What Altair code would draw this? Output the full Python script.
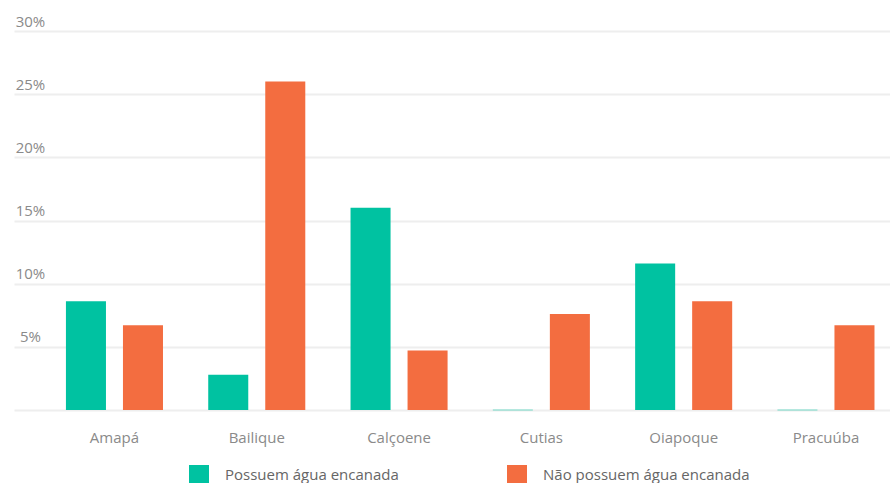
import altair as alt
import pandas as pd

# Percentual de domicílios por município, segundo o acesso à água encanada
municipios = ["Amapá", "Bailique", "Calçoene", "Cutias", "Oiapoque", "Pracuúba"]
possuem = [8.6, 2.8, 16.0, 0.0, 11.6, 0.0]
nao_possuem = [6.7, 26.0, 4.7, 7.6, 8.6, 6.7]
series = ["Possuem água encanada", "Não possuem água encanada"]
cores = ["#00C2A1", "#F36D40"]

rows = []
for m, a, b in zip(municipios, possuem, nao_possuem):
    rows.append({"municipio": m, "grupo": series[0], "valor": a})
    rows.append({"municipio": m, "grupo": series[1], "valor": b})
df = pd.DataFrame(rows)

FONT = "Open Sans"
GRAY = "#8a8a8a"

color_scale = alt.Scale(domain=series, range=cores)

chart = (
    alt.Chart(df)
    .mark_bar(strokeWidth=1.5)
    .encode(
        x=alt.X(
            "municipio:N",
            sort=municipios,
            title=None,
            scale=alt.Scale(paddingInner=0.318, paddingOuter=0.237, align=0.77),
            axis=alt.Axis(
                labelAngle=0,
                domain=False,
                ticks=False,
                grid=False,
                labelPadding=20,
                labelFont=FONT,
                labelFontSize=15,
                labelColor=GRAY,
            ),
        ),
        xOffset=alt.XOffset(
            "grupo:N",
            sort=series,
            scale=alt.Scale(paddingInner=0.298, paddingOuter=0),
        ),
        y=alt.Y(
            "valor:Q",
            title=None,
            scale=alt.Scale(domain=[0, 30], nice=False),
            axis=alt.Axis(
                values=[0, 5, 10, 15, 20, 25, 30],
                labelExpr="datum.value == 0 ? '' : datum.value + '%'",
                domain=False,
                ticks=False,
                tickSize=0,
                labelAlign="center",
                labelBaseline="middle",
                labelPadding=-16,
                labelOffset=-10,
                labelFont=FONT,
                labelFontSize=15,
                labelColor=GRAY,
                gridColor="#eeeeee",
                gridWidth=2,
            ),
        ),
        color=alt.Color(
            "grupo:N",
            sort=series,
            scale=color_scale,
            legend=alt.Legend(
                title=None,
                orient="none",
                direction="horizontal",
                legendX=175,
                legendY=434,
                symbolType="square",
                symbolSize=400,
                symbolStrokeWidth=0,
                symbolOpacity=1,
                labelOffset=16,
                labelLimit=400,
                columnPadding=108,
                labelFont=FONT,
                labelFontSize=15,
                labelColor="#666666",
            ),
        ),
        stroke=alt.Stroke("grupo:N", sort=series, scale=color_scale, legend=None),
        strokeOpacity=alt.condition("datum.valor == 0", alt.value(0.35), alt.value(0)),
    )
    .properties(
        width=876,
        height=379,
        background="white",
        autosize=alt.AutoSizeParams(type="none"),
        padding={"left": 14, "top": 31, "right": 0, "bottom": 73},
    )
    .configure_view(strokeWidth=0)
)

chart.save("out.html", embed_options={"renderer": "svg", "actions": False})
